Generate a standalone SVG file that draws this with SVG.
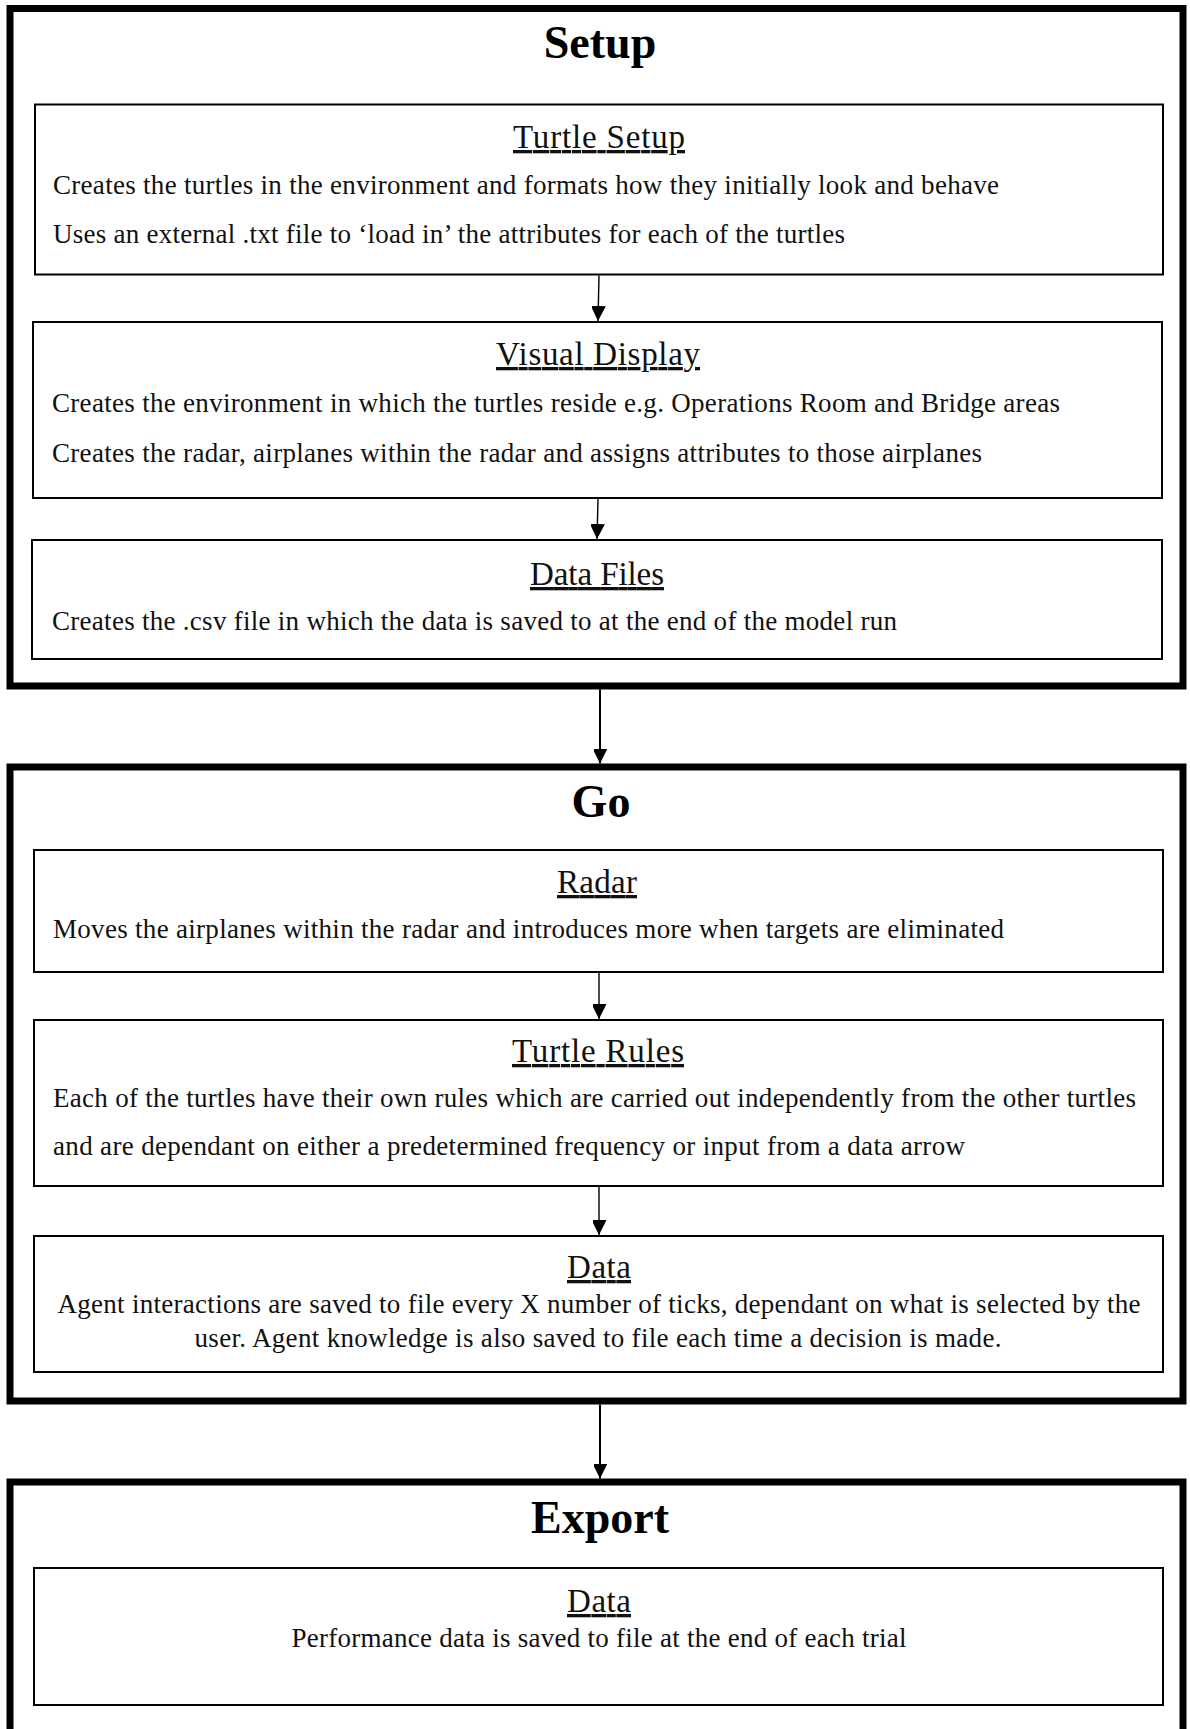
<svg xmlns="http://www.w3.org/2000/svg" width="1190" height="1729" viewBox="0 0 1190 1729">
  <style>
    .stage { fill: #fff; stroke: #000; stroke-width: 7; }
    .box { fill: #fff; stroke: #000; stroke-width: 2; }
    .head { font-family: "Liberation Serif", "Times New Roman", serif; font-weight: bold; font-size: 46px; fill: #000; text-anchor: middle; }
    .title { font-family: "Liberation Serif", "Times New Roman", serif; font-size: 33px; fill: #111; text-anchor: middle; text-decoration: underline; }
    .body { font-family: "Liberation Serif", "Times New Roman", serif; font-size: 27px; fill: #111; }
    .mid { text-anchor: middle; }
    .thin { stroke: #000; stroke-width: 1.4; fill: none; }
    .thick { stroke: #000; stroke-width: 2; fill: none; }
  </style>
  <defs>
    <marker id="head" markerUnits="userSpaceOnUse" markerWidth="16" markerHeight="14" refX="15" refY="7.5" orient="auto">
      <path d="M0,0 L15,7.5 L0,15 Z" fill="#000"/>
    </marker>
  </defs>

  <rect width="1190" height="1729" fill="#fff"/>

  <!-- Setup stage -->
  <g id="setup">
    <rect class="stage" x="10" y="8.5" width="1173" height="677.5"/>
    <text class="head" x="600" y="58">Setup</text>
  </g>
  <g id="turtle-setup">
    <rect class="box" x="35" y="104.5" width="1128" height="170"/>
    <text class="title" x="599" y="148" textLength="172" lengthAdjust="spacing">Turtle Setup</text>
    <text class="body" x="53" y="194" textLength="946" lengthAdjust="spacing">Creates the turtles in the environment and formats how they initially look and behave</text>
    <text class="body" x="53" y="243" textLength="792" lengthAdjust="spacing">Uses an external .txt file to ‘load in’ the attributes for each of the turtles</text>
  </g>
  <g id="visual-display">
    <rect class="box" x="33" y="322" width="1129" height="176"/>
    <text class="title" x="598" y="365" textLength="204" lengthAdjust="spacing">Visual Display</text>
    <text class="body" x="52" y="412" textLength="1008" lengthAdjust="spacing">Creates the environment in which the turtles reside e.g. Operations Room and Bridge areas</text>
    <text class="body" x="52" y="462" textLength="930" lengthAdjust="spacing">Creates the radar, airplanes within the radar and assigns attributes to those airplanes</text>
  </g>
  <g id="data-files">
    <rect class="box" x="32" y="540" width="1130" height="119"/>
    <text class="title" x="597" y="585" textLength="134" lengthAdjust="spacing">Data Files</text>
    <text class="body" x="52" y="630" textLength="845" lengthAdjust="spacing">Creates the .csv file in which the data is saved to at the end of the model run</text>
  </g>

  <!-- Go stage -->
  <g id="go">
    <rect class="stage" x="10" y="767" width="1173" height="634"/>
    <text class="head" x="601" y="817">Go</text>
  </g>
  <g id="radar">
    <rect class="box" x="34" y="850" width="1129" height="122"/>
    <text class="title" x="597" y="893" textLength="80" lengthAdjust="spacing">Radar</text>
    <text class="body" x="53" y="938" textLength="951" lengthAdjust="spacing">Moves the airplanes within the radar and introduces more when targets are eliminated</text>
  </g>
  <g id="turtle-rules">
    <rect class="box" x="34" y="1020" width="1129" height="166"/>
    <text class="title" x="598" y="1062" textLength="172" lengthAdjust="spacing">Turtle Rules</text>
    <text class="body" x="53" y="1107" textLength="1083" lengthAdjust="spacing">Each of the turtles have their own rules which are carried out independently from the other turtles</text>
    <text class="body" x="53" y="1155" textLength="912" lengthAdjust="spacing">and are dependant on either a predetermined frequency or input from a data arrow</text>
  </g>
  <g id="go-data">
    <rect class="box" x="34" y="1236" width="1129" height="136"/>
    <text class="title" x="599" y="1278" textLength="64" lengthAdjust="spacing">Data</text>
    <text class="body mid" x="599" y="1313" textLength="1083" lengthAdjust="spacing">Agent interactions are saved to file every X number of ticks, dependant on what is selected by the</text>
    <text class="body mid" x="598" y="1347" textLength="807" lengthAdjust="spacing">user. Agent knowledge is also saved to file each time a decision is made.</text>
  </g>

  <!-- Export stage -->
  <g id="export">
    <rect class="stage" x="10" y="1482" width="1173" height="270"/>
    <text class="head" x="600" y="1533">Export</text>
  </g>
  <g id="export-data">
    <rect class="box" x="34" y="1568" width="1129" height="137"/>
    <text class="title" x="599" y="1612" textLength="64" lengthAdjust="spacing">Data</text>
    <text class="body mid" x="599" y="1647" textLength="615" lengthAdjust="spacing">Performance data is saved to file at the end of each trial</text>
  </g>

  <!-- Connectors -->
  <g id="connectors">
    <line class="thin" x1="599" y1="275.5" x2="598" y2="321" marker-end="url(#head)"/>
    <line class="thin" x1="598" y1="499" x2="597" y2="539" marker-end="url(#head)"/>
    <line class="thick" x1="600" y1="689.5" x2="600" y2="763.5" marker-end="url(#head)"/>
    <line class="thin" x1="599" y1="973" x2="599" y2="1019" marker-end="url(#head)"/>
    <line class="thin" x1="599" y1="1187" x2="599" y2="1235" marker-end="url(#head)"/>
    <line class="thick" x1="600" y1="1404.5" x2="600" y2="1478.5" marker-end="url(#head)"/>
  </g>
</svg>
